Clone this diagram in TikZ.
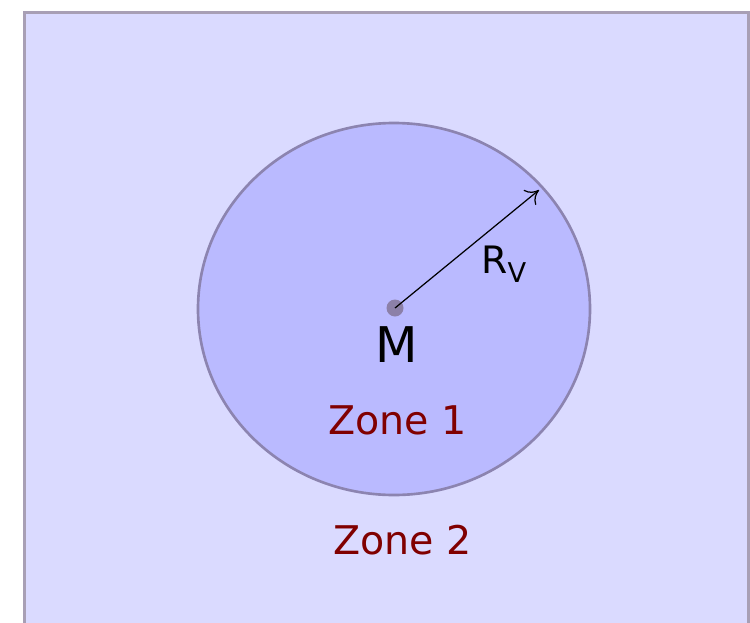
\documentclass[tikz,border=0pt]{standalone}
\usepackage{fontspec}
\setmainfont{DejaVu Sans}
\usetikzlibrary{arrows.meta}
\definecolor{outerfill}{HTML}{DADAFF}
\definecolor{innerfill}{HTML}{BABAFF}
\definecolor{outerborder}{HTML}{A89FB5}
\definecolor{innerborder}{HTML}{8C84B0}
\definecolor{dotcol}{HTML}{8C80A8}
\definecolor{zonered}{HTML}{800000}
\tikzset{
  zonelabel/.style={anchor=base, inner sep=0pt, text=zonered, font=\fontsize{22.5pt}{27pt}\selectfont},
  radarrow/.style={-{To[length=7pt,width=11pt]}, line width=0.7pt, black},
}
\begin{document}
\begin{tikzpicture}[x=0.02cm, y=-0.02cm]
\useasboundingbox (0,0) rectangle (750,622);
\fill[white] (0,0) rectangle (750,622);
\draw[outerborder, fill=outerfill, line width=1.9pt] (24.5,12.5) rectangle (749,640);
\draw[innerborder, fill=innerfill, line width=1.5pt] (394,309) ellipse [x radius=196, y radius=186];
\fill[dotcol] (395,308) circle [radius=8.5];
\coordinate (M) at (395,308);
\coordinate (E) at (539,190);
\draw[radarrow] (M) -- (E);
\node[anchor=base west, inner sep=0pt, font=\fontsize{21.5pt}{25pt}\selectfont] (rv) at (481,273) {R\raisebox{-5.6pt}{\fontsize{15.5pt}{18pt}\selectfont V}};
\node[anchor=base, inner sep=0pt, font=\fontsize{28pt}{33pt}\selectfont] (mlabel) at (397,362) {M};
\node[zonelabel] (z1) at (397.5,434) {Zone 1};
\node[zonelabel] (z2) at (402.5,554) {Zone 2};
\end{tikzpicture}
\end{document}
